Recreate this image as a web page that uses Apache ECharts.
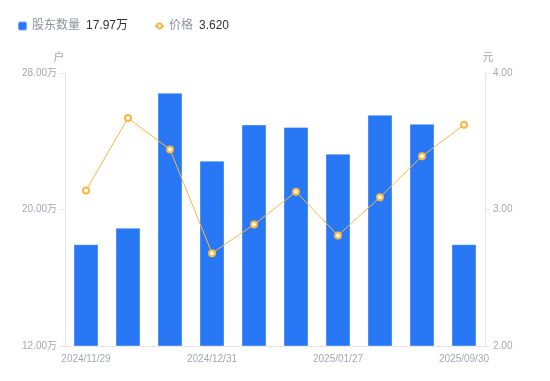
<!DOCTYPE html>
<html>
<head>
<meta charset="utf-8">
<script src="https://cdn.jsdelivr.net/npm/echarts@6/dist/echarts.min.js"></script>
<style>
  html, body { margin: 0; padding: 0; background: #fff; }
  #main { width: 550px; height: 381px; }
</style>
</head>
<body>
<div id="main"></div>
<script>
// data
var dates = ['2024/11/29', '2024/12/10', '2024/12/20', '2024/12/31', '2025/01/10',
             '2025/01/20', '2025/01/27', '2025/03/31', '2025/06/30', '2025/09/30'];
var holders = [17.97, 18.93, 26.84, 22.86, 24.98, 24.84, 23.27, 25.55, 25.02, 17.97]; // 万户
var prices = [3.14, 3.67, 3.44, 2.68, 2.89, 3.13, 2.81, 3.09, 3.39, 3.62];

var font = "'Liberation Sans', 'Noto Sans CJK SC', sans-serif";
var labelColor = '#a5a8b3';
var lineColor = '#e6e6e6';

var chart = echarts.init(document.getElementById('main'));

var legendText = {
  fontFamily: font,
  rich: {
    n: { color: '#8f929c', fontSize: 12, fontFamily: font },
    v: { color: '#333333', fontSize: 12, fontFamily: font, padding: [0, 0, 0, 6] }
  }
};

function legendFormatter(name) {
  if (name == '股东数量') {
    return '{n|' + name + '}{v|' + holders[holders.length - 1].toFixed(2) + '万}';
  }
  return '{n|' + name + '}{v|' + prices[prices.length - 1].toFixed(3) + '}';
}

var option = {
  animation: false,
  textStyle: { fontFamily: font },
  legend: [
    {
      left: 12,
      top: 15,
      itemWidth: 9,
      itemHeight: 9,
      textStyle: legendText,
      formatter: legendFormatter,
      data: [{ name: '股东数量', icon: 'roundRect' }]
    },
    {
      left: 149,
      top: 15,
      itemWidth: 9,
      itemHeight: 6,
      textStyle: legendText,
      formatter: legendFormatter,
      data: [{ name: '价格', lineStyle: { width: 2 } }]
    }
  ],
  grid: {
    left: 65,
    right: 65,
    top: 73,
    bottom: 35
  },
  xAxis: {
    type: 'category',
    data: dates,
    axisLine: { lineStyle: { color: lineColor } },
    axisTick: { show: false },
    axisLabel: {
      color: labelColor,
      fontSize: 10,
      interval: 2,
      margin: 8
    }
  },
  yAxis: [
    {
      type: 'value',
      name: '户',
      nameGap: 10,
      min: 12,
      max: 28,
      interval: 8,
      nameTextStyle: { color: labelColor, fontSize: 11, padding: [0, 12, 0, 0] },
      splitLine: { show: false },
      axisLine: { show: true, lineStyle: { color: lineColor } },
      axisTick: { show: true, length: 5, lineStyle: { color: lineColor } },
      axisLabel: {
        color: labelColor,
        fontSize: 10,
        formatter: function (val) { return val.toFixed(2) + '万'; }
      }
    },
    {
      type: 'value',
      name: '元',
      nameGap: 10,
      min: 2,
      max: 4,
      interval: 1,
      nameTextStyle: { color: labelColor, fontSize: 11, padding: [0, 0, 0, 6] },
      splitLine: { show: false },
      axisLine: { show: true, lineStyle: { color: lineColor } },
      axisTick: { show: true, length: 5, lineStyle: { color: lineColor } },
      axisLabel: {
        color: labelColor,
        fontSize: 10,
        formatter: function (val) { return val.toFixed(2); }
      }
    }
  ],
  series: [
    {
      name: '股东数量',
      type: 'bar',
      yAxisIndex: 0,
      barWidth: 25,
      data: holders,
      itemStyle: {
        color: '#2878f5',
        borderColor: 'rgba(255,255,255,0.35)',
        borderWidth: 1
      }
    },
    {
      name: '价格',
      type: 'line',
      yAxisIndex: 1,
      data: prices,
      symbol: 'emptyCircle',
      symbolSize: 6,
      lineStyle: { color: '#fbb640', width: 1 },
      itemStyle: { color: '#fbb640', borderWidth: 2 }
    }
  ]
};

chart.setOption(option, true);
window.addEventListener('resize', function () {
  chart.resize();
});
</script>
</body>
</html>
